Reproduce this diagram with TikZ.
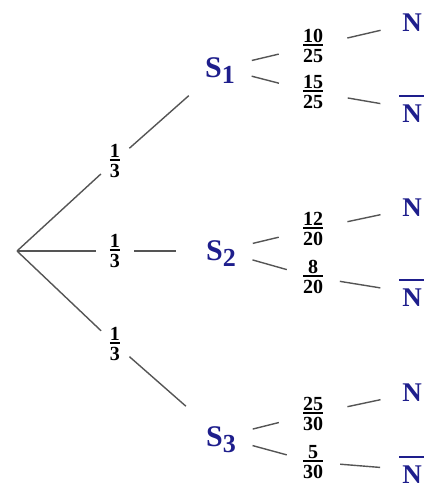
\documentclass[tikz,border=0pt]{standalone}
\usepackage{fontspec}
\setmainfont{Liberation Serif}
\definecolor{sblue}{RGB}{30,30,140}
\definecolor{lgray}{RGB}{85,85,85}
\newcommand\frc[2]{\vbox{\halign{\hfil##\hfil\cr #1\cr\noalign{\kern2pt\hrule height1.3pt\kern4pt}#2\cr}}}
\newcommand\Sn[1]{S\smash{\raisebox{-6pt}{\fontsize{26}{26}\selectfont #1}}}
\newcommand\Nbar{\rlap{\kern-3pt\rule[26pt]{25pt}{1.4pt}}N}

\begin{document}
\begin{tikzpicture}[x=1pt,y=-1pt,
  branch/.style={draw=lgray,line width=1.4pt},
  probnode/.style={circle,inner sep=0pt,minimum size=38pt,font=\fontsize{20}{24}\selectfont\bfseries},
  fracnode/.style={circle,inner sep=0pt,minimum size=70pt,font=\fontsize{20}{24}\selectfont\bfseries},
  snode/.style={circle,inner sep=0pt,minimum size=65pt,text=sblue,font=\fontsize{30}{36}\selectfont\bfseries},
  nnode/.style={inner sep=0pt,text=sblue,font=\fontsize{27}{32}\selectfont\bfseries}]
\useasboundingbox (0,0) rectangle (424,491);
\coordinate (O) at (17,251);
% first level
\foreach \i/\y in {1/161,2/251,3/344}
   \node[probnode] (p\i) at (115,\y) {\frc{1}{3}};
\foreach \i/\x/\y in {1/220/68,2/221/251,3/221/437}
   \node[snode] (S\i) at (\x,\y) {\Sn{\i}};
% second level
\foreach \n/\y/\a/\b/\r in %
{f11/46/10/25/70,f12/92/15/25/70,f21/229/12/20/70,f22/277/8/20/54,f31/414/25/30/70,f32/462/5/30/54}
   \node[fracnode,minimum size=\r pt] (\n) at (313,\y) {\frc{\a}{\b}};
\foreach \i/\y in {1/23,2/208,3/393}
   \node[nnode] (N\i1) at (412,\y) {N};
\foreach \i/\y in {1/109,2/293,3/470}
   \node[nnode] (N\i2) at (412,\y) {\Nbar};
% branches
\draw[branch] (O) -- (p1); \draw[branch,shorten >=9pt] (p1) -- (S1);
\draw[branch] (O) -- (p2); \draw[branch,shorten >=12pt] (p2) -- (S2);
\draw[branch] (O) -- (p3); \draw[branch,shorten >=14pt] (p3) -- (S3);
\foreach \i in {1,2,3}
   \foreach \j in {1,2} {
      \draw[branch] (S\i) -- (f\i\j);
      \draw[branch,shorten >=22pt] (f\i\j) -- (N\i\j);
   }
\end{tikzpicture}
\end{document}
